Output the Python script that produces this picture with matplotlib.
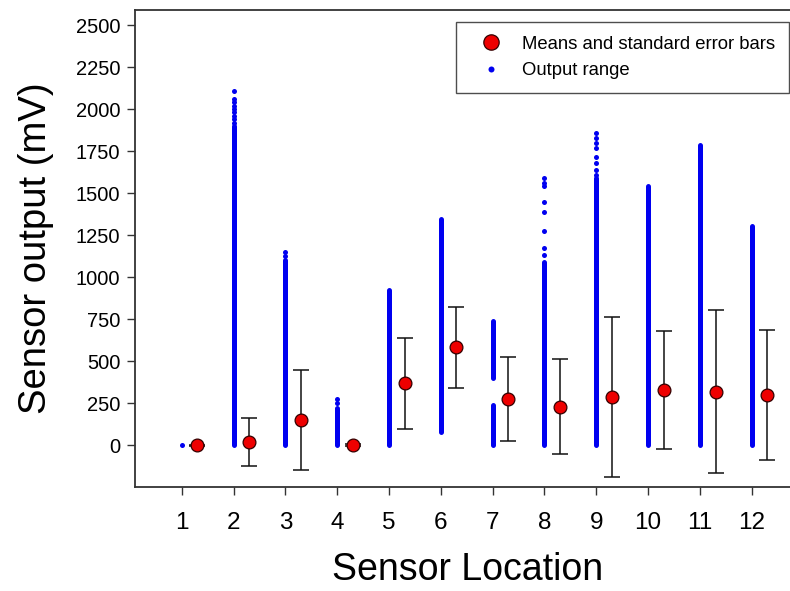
"""Sensor output range and means with standard error bars, per sensor location."""
import matplotlib
matplotlib.use("Agg")
import matplotlib.pyplot as plt

plt.rcParams["font.family"] = ["Liberation Sans", "DejaVu Sans"]

sensors = [1, 2, 3, 4, 5, 6, 7, 8, 9, 10, 11, 12]
means = [0, 17, 149, 0, 367, 581, 274, 228, 286, 328, 318, 297]
std_err = [3, 142, 297, 8, 272, 241, 252, 283, 476, 350, 487, 388]

# dense parts of the output range (drawn as continuous runs of dots)
seg_sensor = [2, 3, 4, 5, 6, 7, 7, 8, 9, 10, 11, 12]
seg_lo = [0, 0, 0, 0, 80, 0, 397, 0, 0, 0, 0, 0]
seg_hi = [1900, 1100, 218, 922, 1345, 238, 740, 1090, 1590, 1545, 1785, 1305]

# isolated readings
pt_sensor = [1,
             2, 2, 2, 2, 2, 2, 2, 2, 2,
             3, 3,
             4, 4,
             8, 8, 8, 8, 8, 8, 8, 8,
             9, 9, 9, 9, 9, 9, 9, 9]
pt_value = [0,
            1920, 1940, 1960, 1980, 2000, 2020, 2040, 2058, 2109,
            1125, 1147,
            250, 272,
            1131, 1171, 1276, 1389, 1448, 1540, 1561, 1587,
            1607, 1637, 1677, 1716, 1768, 1798, 1825, 1855]

MEAN_SHIFT = 0.3
BLUE = "#0000f0"
RED = "#ee0000"

fig = plt.figure(figsize=(7.9, 5.91), dpi=100)
ax = fig.add_axes([135 / 790, 1 - 487 / 591, 665 / 790, 477 / 591])

lc = ax.vlines(seg_sensor, seg_lo, seg_hi, colors=BLUE, linewidth=3.6, zorder=2)
lc.set_capstyle("round")
ax.plot(pt_sensor, pt_value, "o", color=BLUE, markersize=3.6, markeredgewidth=0,
        linestyle="none", label="Output range", zorder=2)

xm = [s + MEAN_SHIFT for s in sensors]
ax.errorbar(xm, means, yerr=std_err, fmt="none", ecolor="#111111", elinewidth=1.1,
            capsize=5.5, capthick=1.1, zorder=3)
ax.plot(xm, means, "o", color=RED, markersize=9.2, markeredgecolor="#330000",
        markeredgewidth=0.9, linestyle="none", label="Means and standard error bars",
        zorder=4)

ax.set_xlim(0.099, 12.93)
ax.set_ylim(-250, 2590)
ax.set_xticks(sensors)
ax.set_yticks(range(0, 2501, 250))
ax.tick_params(axis="y", direction="out", length=6, width=1, labelsize=14.5, pad=4.5,
               color="#333333")
ax.tick_params(axis="x", direction="out", length=6, width=1, labelsize=17.5, pad=12,
               color="#333333")
for side in ("left", "bottom", "top"):
    ax.spines[side].set_color("#333333")
    ax.spines[side].set_linewidth(1.3)
ax.spines["right"].set_visible(False)

ax.set_xlabel("Sensor Location", fontsize=27, labelpad=13)
ax.set_ylabel("Sensor output (mV)", fontsize=27.5, labelpad=16)

handles, labels = ax.get_legend_handles_labels()
leg = ax.legend(handles[::-1], labels[::-1], loc="upper right",
                bbox_to_anchor=(789 / 790, 1 - 22 / 591),
                bbox_transform=fig.transFigure, fontsize=13.3, frameon=True,
                fancybox=False, edgecolor="#222222", borderaxespad=0,
                handletextpad=0.6, borderpad=0.75, labelspacing=0.5,
                handlelength=2.2, markerscale=1.2)
leg.get_frame().set_linewidth(1.0)

fig.savefig("out.png", dpi=100)
